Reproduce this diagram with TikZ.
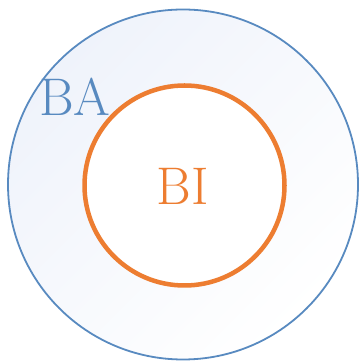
\documentclass[tikz,border=0pt]{standalone}
\usepackage{xcolor}
\usepackage{tikz}
\definecolor{setblue}{RGB}{88,138,192}
\definecolor{setorange}{RGB}{237,125,49}
\definecolor{setfill}{RGB}{239,243,251}

\begin{document}
\begin{tikzpicture}[x=1pt, y=1pt,
    outerset/.style={circle,draw=setblue,line width=1.8pt,minimum size=350pt,
      left color=setfill,right color=white,shading angle=45},
    innerset/.style={circle,draw=setorange,line width=4.5pt,minimum size=200pt,fill=white!98!setfill},
    setname/.style={font=\fontsize{53}{53}\selectfont}]
    \useasboundingbox (0,0) rectangle (360,363);
    \node[outerset] (ba) at (183,178.5) {};
    \node[innerset] (bi) at (184.5,177.5) {};
    \node[setname,text=setblue] (balabel) at (75,266) {BA};
    \node[setname,text=setorange] (bilabel) at (183,177) {BI};
  \end{tikzpicture}
\end{document}
